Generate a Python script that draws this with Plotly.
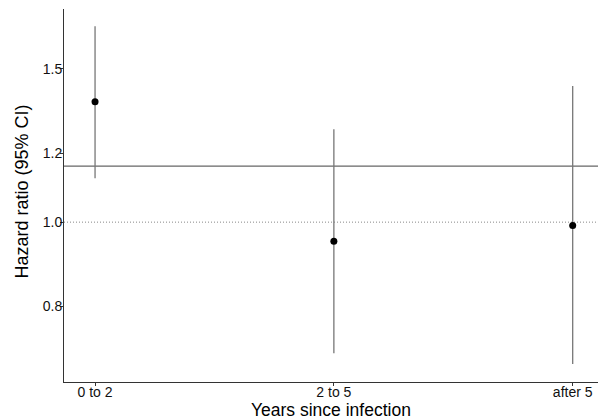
import math
import plotly.graph_objects as go

categories = ["0 to 2", "2 to 5", "after 5"]
hr = [1.375, 0.951, 0.991]
ci_low = [1.123, 0.707, 0.687]
ci_high = [1.68, 1.279, 1.434]
overall_hr = 1.16
reference_hr = 1.0
y_ticks = [0.8, 1.0, 1.2, 1.5]
y_tick_labels = ["0.8", "1.0", "1.2", "1.5"]

x_pos = list(range(1, len(categories) + 1))
x_range = [0.87, 3.106]
y_range = [math.log10(0.655), math.log10(1.758)]

fig = go.Figure()

# reference line at 1 (dotted)
fig.add_trace(go.Scatter(
    x=x_range, y=[reference_hr, reference_hr], mode="lines",
    line=dict(color="#888888", width=1, dash="1px,2px"),
    hoverinfo="skip", showlegend=False))

# overall HR line
fig.add_trace(go.Scatter(
    x=x_range, y=[overall_hr, overall_hr], mode="lines",
    line=dict(color="#666666", width=1.2),
    hoverinfo="skip", showlegend=False))

# point estimates with CIs
fig.add_trace(go.Scatter(
    x=x_pos, y=hr, mode="markers",
    marker=dict(color="black", size=7),
    error_y=dict(
        type="data", symmetric=False,
        array=[h - v for h, v in zip(ci_high, hr)],
        arrayminus=[v - l for v, l in zip(hr, ci_low)],
        color="#777777", thickness=1.3, width=0),
    showlegend=False))

font_family = "Liberation Sans, Arial, sans-serif"

fig.update_layout(
    width=598, height=420,
    margin=dict(l=64, r=0, t=9, b=38, autoexpand=False),
    paper_bgcolor="white", plot_bgcolor="white",
    font=dict(family=font_family, color="#1a1a1a"),
    xaxis=dict(
        range=x_range, tickvals=x_pos, ticktext=categories,
        showgrid=False, zeroline=False, automargin=False,
        showline=True, linecolor="#333333", linewidth=1,
        ticks="outside", ticklen=3, tickcolor="#333333",
        ticklabelstandoff=-6,
        tickfont=dict(size=14, color="#111111"),
    ),
    yaxis=dict(
        type="log", range=y_range,
        tickvals=y_ticks, ticktext=y_tick_labels,
        showgrid=False, zeroline=False, automargin=False,
        showline=True, linecolor="#333333", linewidth=1,
        ticks="outside", ticklen=3, tickcolor="#333333",
        ticklabelstandoff=-5,
        tickfont=dict(size=14, color="#111111"),
    ),
    annotations=[
        dict(text="Years since infection", xref="paper", yref="paper",
             x=0.5, y=0, xanchor="center", yanchor="middle", yshift=-28,
             showarrow=False, font=dict(size=17.5, color="black")),
        dict(text="Hazard ratio (95% CI)", xref="paper", yref="paper",
             x=0, y=0.5, xanchor="center", yanchor="middle", xshift=-43, yshift=4,
             textangle=-90, showarrow=False, font=dict(size=18, color="black")),
    ],
)

fig.write_html(
    "out.html",
    config={"displayModeBar": False},
    post_script="document.body.style.margin='0';document.body.style.overflow='hidden';",
)
